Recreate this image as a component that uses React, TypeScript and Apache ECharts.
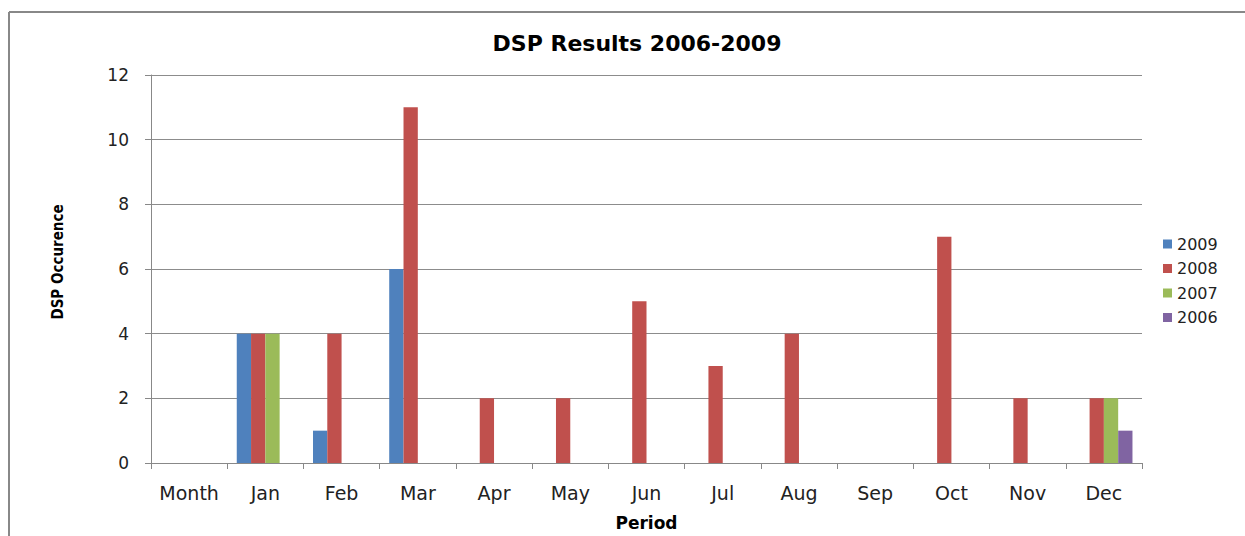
import React, { useEffect, useRef } from "react";
import * as echarts from "echarts";

const categories = ["Month", "Jan", "Feb", "Mar", "Apr", "May", "Jun", "Jul", "Aug", "Sep", "Oct", "Nov", "Dec"];
const seriesNames = ["2009", "2008", "2007", "2006"];
const values2009 = [null, 4, 1, 6, 0, 0, 0, 0, 0, 0, 0, 0, 0];
const values2008 = [null, 4, 4, 11, 2, 2, 5, 3, 4, 0, 7, 2, 2];
const values2007 = [null, 4, 0, 0, 0, 0, 0, 0, 0, 0, 0, 0, 2];
const values2006 = [null, 0, 0, 0, 0, 0, 0, 0, 0, 0, 0, 0, 1];
const colors = ["#4F81BD", "#C0504D", "#9BBB59", "#8064A2"];

const FONT = "'DejaVu Sans', sans-serif";

export default function App() {
  const ref = useRef<HTMLDivElement>(null);
  useEffect(() => {
    if (!ref.current) return;
    const chart = echarts.init(ref.current, undefined, { renderer: "svg" });
    const allValues = [values2009, values2008, values2007, values2006];
    chart.setOption({
      animation: false,
      backgroundColor: "#ffffff",
      color: colors,
      textStyle: { fontFamily: FONT },
      title: {
        text: "DSP Results 2006-2009",
        left: 632,
        top: 27,
        textAlign: "center",
        textStyle: { fontFamily: FONT, fontWeight: "bold", fontSize: 22, color: "#000" },
      },
      legend: {
        orient: "vertical",
        left: 1158,
        top: 231,
        itemWidth: 9,
        itemHeight: 9,
        itemGap: 8.5,
        icon: "rect",
        data: seriesNames,
        textStyle: { fontFamily: FONT, fontSize: 16, color: "#222" },
      },
      grid: { left: 151, right: 103, top: 75, bottom: 55, containLabel: false },
      xAxis: {
        type: "category",
        data: categories,
        name: "Period",
        nameLocation: "middle",
        nameGap: 51,
        nameTextStyle: { fontFamily: FONT, fontWeight: "bold", fontSize: 17, color: "#000" },
        axisLine: { show: true, lineStyle: { color: "#888", width: 1 } },
        axisTick: { show: true, length: 6, lineStyle: { color: "#888" } },
        axisLabel: { margin: 20, fontSize: 19, color: "#222", fontFamily: FONT, interval: 0 },
      },
      yAxis: {
        type: "value",
        min: 0,
        max: 12,
        interval: 2,
        axisLine: { show: true, lineStyle: { color: "#888", width: 1 } },
        axisTick: { show: true, length: 6, lineStyle: { color: "#888" } },
        axisLabel: { margin: 22, fontSize: 17, color: "#222", fontFamily: FONT },
        splitLine: { show: true, lineStyle: { color: "#8c8c8c", width: 1 } },
      },
      series: seriesNames.map((name, i) => ({
        name,
        type: "bar",
        data: allValues[i],
        barGap: "0%",
        barCategoryGap: "25%",
        itemStyle: { color: colors[i] },
      })),
      graphic: [
        { type: "line", shape: { x1: 9, y1: 12, x2: 1245, y2: 12 }, style: { stroke: "#888", lineWidth: 2 } },
        { type: "line", shape: { x1: 9, y1: 12, x2: 9, y2: 536 }, style: { stroke: "#888", lineWidth: 2 } },
        {
          type: "text",
          x: 58,
          y: 262,
          rotation: Math.PI / 2,
          style: {
            text: "DSP Occurence",
            x: 0,
            y: 0,
            align: "center",
            verticalAlign: "middle",
            fontFamily: "'DejaVu Sans Condensed', 'Liberation Sans Narrow', sans-serif",
            fontWeight: "bold",
            fontSize: 15,
            fill: "#000",
          },
        },
      ],
    });
    return () => chart.dispose();
  }, []);
  return <div ref={ref} style={{ position: "fixed", left: 0, top: 0, width: 1245, height: 536 }} />;
}
